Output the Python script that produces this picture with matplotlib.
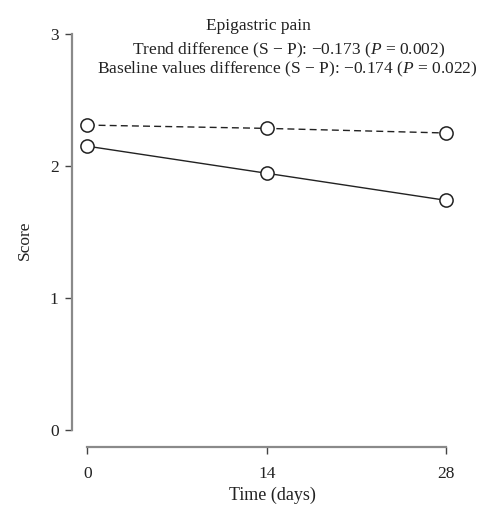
import matplotlib.pyplot as plt

plt.rcParams['font.family'] = ['Liberation Serif', 'DejaVu Serif']
plt.rcParams['mathtext.fontset'] = 'custom'
plt.rcParams['mathtext.rm'] = 'Liberation Serif'
plt.rcParams['mathtext.it'] = 'Liberation Serif:italic'

days = [0, 14, 28]
xticks = [0, 14, 28]
yticks = [0, 1, 2, 3]
placebo = [2.31, 2.285, 2.25]   # dashed
active = [2.15, 1.945, 1.74]    # solid

title = 'Epigastric pain'
line1 = 'Trend difference (S \u2212 P): \u22120.173 ($P$ = 0.002)'
line2 = 'Baseline values difference (S \u2212 P): \u22120.174 ($P$ = 0.022)'

fig = plt.figure(figsize=(5.01, 5.12), dpi=100)
ax = fig.add_axes([0.1447, 0.1275, 0.7966, 0.8061])

ax.plot(days, placebo, color='#222222', lw=1.0, ls=(0, (5, 3)), marker='o',
        ms=9.5, mfc='white', mec='#222222', mew=1.1)
ax.plot(days, active, color='#222222', lw=1.0, marker='o',
        ms=9.5, mfc='white', mec='#222222', mew=1.1)

ax.set_xlim(-1.17, 30)
ax.set_ylim(-0.1265, 3.0)
ax.spines['top'].set_visible(False)
ax.spines['right'].set_visible(False)
ax.spines['left'].set_bounds(0, 3)
ax.spines['bottom'].set_bounds(0, 28)
for s in ('left', 'bottom'):
    ax.spines[s].set_color('#8a8a8a')
    ax.spines[s].set_linewidth(1.6)
ax.set_xticks(xticks)
ax.set_yticks(yticks)
ax.tick_params(labelsize=12.5, length=5, width=1, color='#444444', labelcolor='#222222')
ax.tick_params(axis='y', pad=5)
ax.tick_params(axis='x', pad=9)
ax.set_xlabel('Time (days)', fontsize=13, color='#222222', labelpad=3)
ax.set_ylabel('Score', fontsize=12.5, color='#222222', labelpad=12)

fig.text(0.516, 0.949, title, ha='center', va='center', fontsize=12.5, color='#222222')
fig.text(0.5765, 0.902, line1, ha='center', va='center', fontsize=12.5, color='#222222')
fig.text(0.574, 0.865, line2, ha='center', va='center', fontsize=12.5, color='#222222')

fig.savefig('out.png', dpi=100)
